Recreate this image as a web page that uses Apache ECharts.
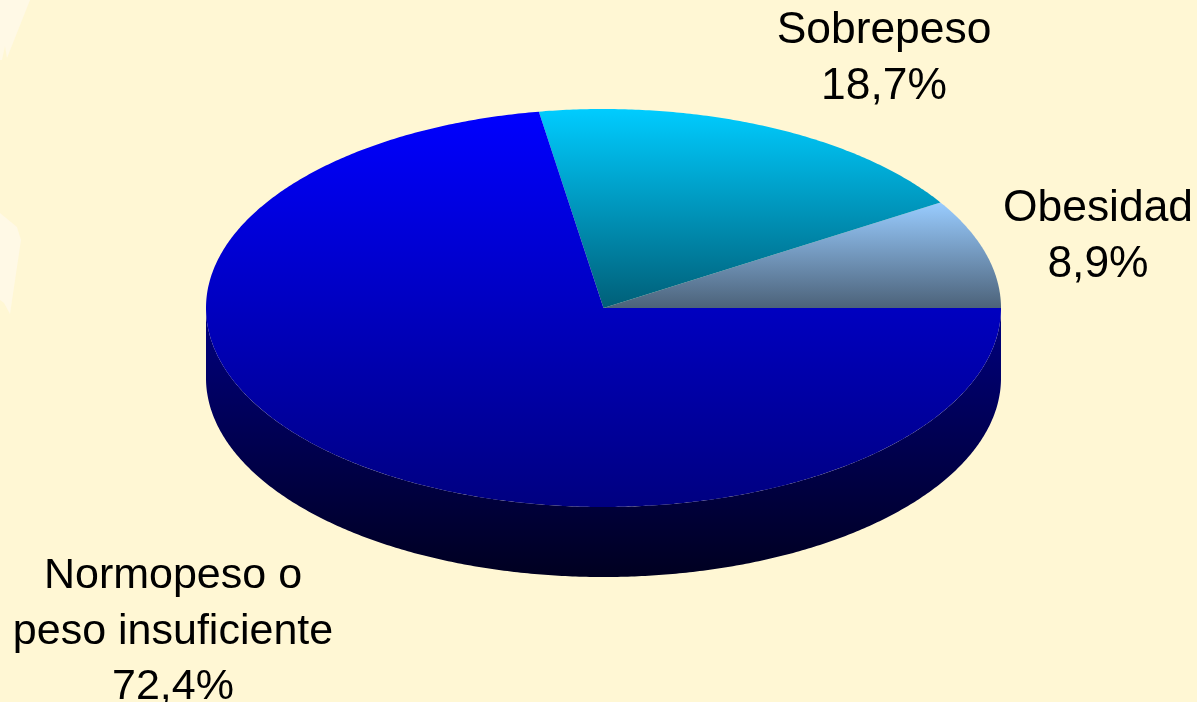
<!DOCTYPE html>
<html>
<head>
<meta charset="utf-8">
<style>html,body{margin:0;padding:0;background:#FFF7D4}#c{width:1197px;height:702px}</style>
<script src="https://cdn.jsdelivr.net/npm/echarts@6/dist/echarts.min.js"></script>
</head>
<body>
<div id="c"></div>
<script>
// Data, counter-clockwise from the 3 o'clock position
const categories = ['Obesidad', 'Sobrepeso', 'Normopeso o\npeso insuficiente'];
const shares = [8.9, 18.7, 72.4];

// Style and layout (separate from the data)
const topColors = [['#99ccff', '#4c6279'], ['#00ccff', '#005f78'], ['#0000ff', '#000080']];
const labelCentres = [[1098, 237], [884, 59], [173, 632]];
const labelSizes = [44.4, 44.4, 43];
const geo = { cx: 603.5, cy: 308, rx: 397.5, ry: 199, depth: 70 };
const total = shares.reduce((a, b) => a + b, 0);

function pt(deg, dy) {
  const r = deg * Math.PI / 180;
  return [geo.cx + geo.rx * Math.cos(r), geo.cy - geo.ry * Math.sin(r) + (dy || 0)];
}
function arc(a0, a1, dy) {
  const n = Math.max(2, Math.ceil(Math.abs(a1 - a0) * 2));
  const out = [];
  for (let i = 0; i <= n; i++) out.push(pt(a0 + (a1 - a0) * i / n, dy));
  return out;
}
function grad(y0, y1, c0, c1) {
  return { type: 'linear', global: true, x: 0, y: y0, x2: 0, y2: y1,
    colorStops: [{ offset: 0, color: c0 }, { offset: 1, color: c1 }] };
}

function renderItem(params, api) {
  const i = params.dataIndex;
  let before = 0;
  for (let k = 0; k < i; k++) before += shares[k];
  const a0 = before / total * 360;
  const a1 = (before + api.value(1)) / total * 360;
  const children = [];

  // visible side wall: only the front half of the rim
  const w0 = Math.max(a0, 180), w1 = Math.min(a1, 360);
  if (w1 > w0) {
    const pts = arc(w0, w1, 0).concat(arc(w1, w0, geo.depth));
    children.push({ type: 'polygon', shape: { points: pts },
      style: { fill: grad(geo.cy, geo.cy + geo.ry + geo.depth, '#000080', '#000020') } });
  }

  // top face
  const rim = arc(a0, a1, 0);
  const ys = rim.map(p => p[1]).concat([geo.cy]);
  const [c0, c1] = topColors[i];
  children.push({ type: 'polygon', shape: { points: [[geo.cx, geo.cy]].concat(rim) },
    style: { fill: grad(Math.min.apply(null, ys), Math.max.apply(null, ys), c0, c1) } });

  // label
  children.push({ type: 'text', z2: 10, style: {
    text: categories[i] + '\n' + api.value(1).toFixed(1).replace('.', ',') + '%',
    x: labelCentres[i][0], y: labelCentres[i][1],
    align: 'center', verticalAlign: 'middle',
    fontFamily: '"Liberation Sans", Arial, sans-serif', fontSize: labelSizes[i], lineHeight: 55.5,
    fill: '#000' } });
  return { type: 'group', children };
}

const chart = echarts.init(document.getElementById('c'), null, { renderer: 'canvas' });
chart.setOption({
  animation: false,
  backgroundColor: '#FFF7D4',
  graphic: [
    { type: 'polygon', silent: true, shape: { points: [[0,0],[30,0],[7,58],[5,46],[2,60],[0,60]] }, style: { fill: '#FFF9E6' } },
    { type: 'polygon', silent: true, shape: { points: [[0,213],[17,227],[21,240],[10,314],[4,303],[0,300]] }, style: { fill: '#FFF9E6' } }
  ],
  series: [{
    type: 'custom',
    coordinateSystem: 'none',
    renderItem,
    silent: true,
    data: categories.map((c, i) => [i, shares[i]])
  }]
});
</script>
</body>
</html>
